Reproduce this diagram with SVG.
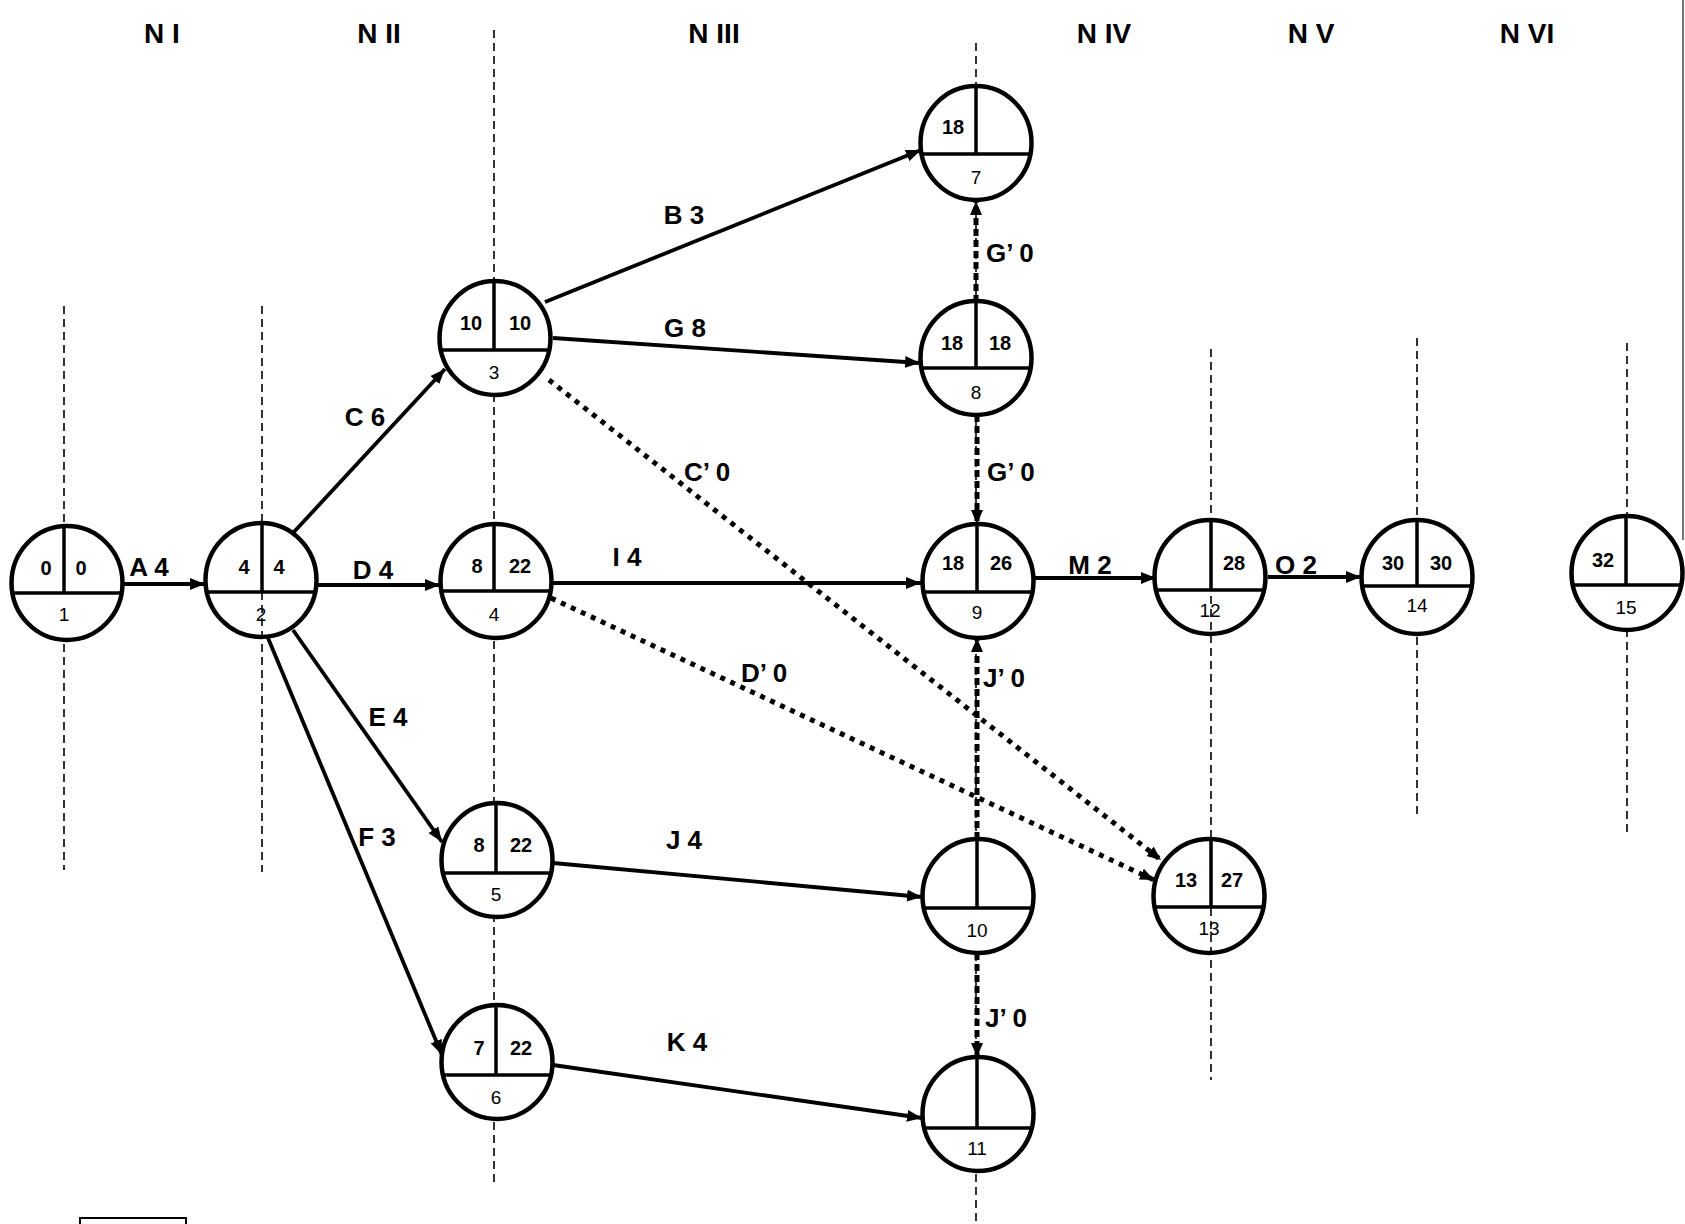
<svg xmlns="http://www.w3.org/2000/svg" width="1685" height="1224" viewBox="0 0 1685 1224">
  <style>
    .bg { fill: #fff; }
    .guide { stroke: #000; stroke-width: 1.6; stroke-dasharray: 8 5; fill: none; }
    .node ellipse { fill: #fff; stroke: #000; stroke-width: 4.5; }
    .node.open ellipse { fill: none; }
    .node line { stroke: #000; stroke-width: 3.5; }
    .num { font-family: "Liberation Sans", Arial, sans-serif; font-weight: bold; font-size: 20px; text-anchor: middle; }
    .id { font-family: "Liberation Sans", Arial, sans-serif; font-size: 19px; text-anchor: middle; }
    .edge { stroke: #000; stroke-width: 3.8; fill: none; marker-end: url(#ah); }
    .dummy { stroke: #000; stroke-width: 5; fill: none; stroke-dasharray: 5 6; marker-end: url(#ahd); }
    .dummy.v { stroke-dasharray: 7 4; }
    .lbl { font-family: "Liberation Sans", Arial, sans-serif; font-weight: bold; font-size: 26px; text-anchor: middle; }
    .dlbl { font-family: "Liberation Sans", Arial, sans-serif; font-weight: bold; font-size: 26px; }
    .hdr { font-family: "Liberation Sans", Arial, sans-serif; font-weight: bold; font-size: 28px; text-anchor: middle; }
  </style>
  <defs>
    <marker id="ah" markerUnits="userSpaceOnUse" markerWidth="16" markerHeight="12" refX="15" refY="6" orient="auto">
      <path d="M0,0 L15,6 L0,12 z" fill="#000"/>
    </marker>
    <marker id="ahd" markerUnits="userSpaceOnUse" markerWidth="16" markerHeight="12" refX="14" refY="6" orient="auto">
      <path d="M0,0 L14,6 L0,12 z" fill="#000"/>
    </marker>
  </defs>

  <rect class="bg" x="0" y="0" width="1685" height="1224"/>

  <!-- level headers -->
  <g id="headers">
    <text class="hdr" x="162" y="43">N I</text>
    <text class="hdr" x="379" y="43">N II</text>
    <text class="hdr" x="714" y="43">N III</text>
    <text class="hdr" x="1104" y="43">N IV</text>
    <text class="hdr" x="1311" y="43">N V</text>
    <text class="hdr" x="1527" y="43">N VI</text>
  </g>

  <!-- dashed level guides -->
  <g id="guides">
    <line class="guide" x1="64" y1="306" x2="64" y2="870"/>
    <line class="guide" x1="262" y1="306" x2="262" y2="872"/>
    <line class="guide" x1="494" y1="30" x2="494" y2="1182"/>
    <line class="guide" x1="976" y1="43" x2="976" y2="1222"/>
    <line class="guide" x1="1211" y1="349" x2="1211" y2="1080"/>
    <line class="guide" x1="1417" y1="338" x2="1417" y2="817"/>
    <line class="guide" x1="1627" y1="343" x2="1627" y2="835"/>
  </g>

  <!-- page edge and box at the bottom -->
  <line x1="1683" y1="0" x2="1683" y2="540" stroke="#444" stroke-width="1.5"/>
  <path d="M80,1226 V1218 H186 V1226" fill="none" stroke="#000" stroke-width="2"/>

  <!-- activities -->
  <g id="connectors">
    <line class="edge" x1="124" y1="584" x2="205" y2="584"/>
    <line class="edge" x1="318" y1="585" x2="440" y2="585"/>
    <line class="edge" x1="293" y1="533" x2="445" y2="369"/>
    <line class="edge" x1="293" y1="630" x2="442" y2="842"/>
    <line class="edge" x1="268" y1="638" x2="442" y2="1055"/>
    <line class="edge" x1="545" y1="302" x2="921" y2="150"/>
    <line class="edge" x1="553" y1="338" x2="920" y2="363"/>
    <line class="edge" x1="553" y1="583" x2="921" y2="583"/>
    <line class="edge" x1="553" y1="863" x2="922" y2="897"/>
    <line class="edge" x1="553" y1="1065" x2="922" y2="1118"/>
    <line class="edge" x1="1034" y1="578" x2="1156" y2="578"/>
    <line class="edge" x1="1268" y1="577" x2="1361" y2="577"/>

    <line class="dummy v" x1="976" y1="302" x2="976" y2="201"/>
    <line class="dummy v" x1="977" y1="415" x2="977" y2="524"/>
    <line class="dummy v" x1="977" y1="839" x2="977" y2="638"/>
    <line class="dummy v" x1="977" y1="953" x2="977" y2="1057"/>
    <line class="dummy" x1="549" y1="380" x2="1161" y2="860"/>
    <line class="dummy" x1="551" y1="598" x2="1154" y2="880"/>

    <text class="lbl" x="149" y="576">A 4</text>
    <text class="lbl" x="373" y="579">D 4</text>
    <text class="lbl" x="365" y="426">C 6</text>
    <text class="lbl" x="388" y="726">E 4</text>
    <text class="lbl" x="377" y="846">F 3</text>
    <text class="lbl" x="684" y="224">B 3</text>
    <text class="lbl" x="685" y="337">G 8</text>
    <text class="lbl" x="627" y="566">I 4</text>
    <text class="lbl" x="684" y="849">J 4</text>
    <text class="lbl" x="687" y="1051">K 4</text>
    <text class="lbl" x="1090" y="574">M 2</text>
    <text class="lbl" x="1296" y="574">O 2</text>

    <text class="dlbl" x="986" y="262">G’ 0</text>
    <text class="dlbl" x="987" y="481">G’ 0</text>
    <text class="dlbl" x="983" y="687">J’ 0</text>
    <text class="dlbl" x="985" y="1027">J’ 0</text>
    <text class="dlbl" x="684" y="481">C’ 0</text>
    <text class="dlbl" x="741" y="682">D’ 0</text>
  </g>

  <!-- events: earliest | latest over event number -->
  <g id="n1" class="node" transform="translate(67,583)">
    <ellipse rx="55.5" ry="57"/>
    <line x1="-3" y1="-57" x2="-3" y2="10"/>
    <line x1="-54" y1="10" x2="54" y2="10"/>
    <text class="num" x="-21" y="-8">0</text>
    <text class="num" x="14" y="-8">0</text>
    <text class="id" x="-3" y="38">1</text>
  </g>
  <g id="n2" class="node open" transform="translate(261,580)">
    <ellipse rx="55.5" ry="57"/>
    <line x1="1" y1="-57" x2="1" y2="12"/>
    <line x1="-54" y1="12" x2="54" y2="12"/>
    <text class="num" x="-17" y="-6">4</text>
    <text class="num" x="18" y="-6">4</text>
    <text class="id" x="0" y="41">2</text>
  </g>
  <g id="n3" class="node" transform="translate(495,338)">
    <ellipse rx="55.5" ry="57"/>
    <line x1="-1" y1="-57" x2="-1" y2="12"/>
    <line x1="-54" y1="12" x2="54" y2="12"/>
    <text class="num" x="-24" y="-8">10</text>
    <text class="num" x="25" y="-8">10</text>
    <text class="id" x="-1" y="41">3</text>
  </g>
  <g id="n4" class="node" transform="translate(496,581)">
    <ellipse rx="55.5" ry="57"/>
    <line x1="-2" y1="-57" x2="-2" y2="10"/>
    <line x1="-54" y1="10" x2="54" y2="10"/>
    <text class="num" x="-19" y="-8">8</text>
    <text class="num" x="24" y="-8">22</text>
    <text class="id" x="-2" y="40">4</text>
  </g>
  <g id="n5" class="node" transform="translate(497,860)">
    <ellipse rx="55.5" ry="57"/>
    <line x1="-1" y1="-57" x2="-1" y2="13"/>
    <line x1="-54" y1="13" x2="54" y2="13"/>
    <text class="num" x="-18" y="-8">8</text>
    <text class="num" x="24" y="-8">22</text>
    <text class="id" x="-1" y="41">5</text>
  </g>
  <g id="n6" class="node" transform="translate(497,1062)">
    <ellipse rx="55.5" ry="57"/>
    <line x1="-1" y1="-57" x2="-1" y2="13"/>
    <line x1="-54" y1="13" x2="54" y2="13"/>
    <text class="num" x="-18" y="-7">7</text>
    <text class="num" x="24" y="-7">22</text>
    <text class="id" x="-1" y="42">6</text>
  </g>
  <g id="n7" class="node" transform="translate(976,143)">
    <ellipse rx="55.5" ry="57"/>
    <line x1="0" y1="-57" x2="0" y2="11"/>
    <line x1="-54" y1="11" x2="54" y2="11"/>
    <text class="num" x="-23" y="-9">18</text>
    <text class="id" x="0" y="41">7</text>
  </g>
  <g id="n8" class="node" transform="translate(976,358)">
    <ellipse rx="55.5" ry="57"/>
    <line x1="0" y1="-57" x2="0" y2="10"/>
    <line x1="-54" y1="10" x2="54" y2="10"/>
    <text class="num" x="-24" y="-8">18</text>
    <text class="num" x="24" y="-8">18</text>
    <text class="id" x="0" y="41">8</text>
  </g>
  <g id="n9" class="node" transform="translate(978,581)">
    <ellipse rx="55.5" ry="57"/>
    <line x1="-1" y1="-57" x2="-1" y2="11"/>
    <line x1="-54" y1="11" x2="54" y2="11"/>
    <text class="num" x="-25" y="-11">18</text>
    <text class="num" x="23" y="-11">26</text>
    <text class="id" x="-1" y="38">9</text>
  </g>
  <g id="n10" class="node" transform="translate(978,896)">
    <ellipse rx="55.5" ry="57"/>
    <line x1="-1" y1="-57" x2="-1" y2="12"/>
    <line x1="-54" y1="12" x2="54" y2="12"/>
    <text class="id" x="-1" y="41">10</text>
  </g>
  <g id="n11" class="node" transform="translate(978,1114)">
    <ellipse rx="55.5" ry="57"/>
    <line x1="-1" y1="-57" x2="-1" y2="14"/>
    <line x1="-54" y1="14" x2="54" y2="14"/>
    <text class="id" x="-1" y="41">11</text>
  </g>
  <g id="n12" class="node open" transform="translate(1210,577)">
    <ellipse rx="55.5" ry="57"/>
    <line x1="1" y1="-57" x2="1" y2="13"/>
    <line x1="-54" y1="13" x2="54" y2="13"/>
    <text class="num" x="24" y="-7">28</text>
    <text class="id" x="0" y="40">12</text>
  </g>
  <g id="n13" class="node open" transform="translate(1209,896)">
    <ellipse rx="55.5" ry="57"/>
    <line x1="2" y1="-57" x2="2" y2="11"/>
    <line x1="-54" y1="11" x2="54" y2="11"/>
    <text class="num" x="-23" y="-9">13</text>
    <text class="num" x="23" y="-9">27</text>
    <text class="id" x="0" y="39">13</text>
  </g>
  <g id="n14" class="node" transform="translate(1417,577)">
    <ellipse rx="55.5" ry="57"/>
    <line x1="0" y1="-57" x2="0" y2="9"/>
    <line x1="-54" y1="9" x2="54" y2="9"/>
    <text class="num" x="-24" y="-7">30</text>
    <text class="num" x="24" y="-7">30</text>
    <text class="id" x="0" y="35">14</text>
  </g>
  <g id="n15" class="node" transform="translate(1627,573)">
    <ellipse rx="55.5" ry="57"/>
    <line x1="-1" y1="-57" x2="-1" y2="12"/>
    <line x1="-54" y1="12" x2="54" y2="12"/>
    <text class="num" x="-24" y="-6">32</text>
    <text class="id" x="-1" y="41">15</text>
  </g>
</svg>
